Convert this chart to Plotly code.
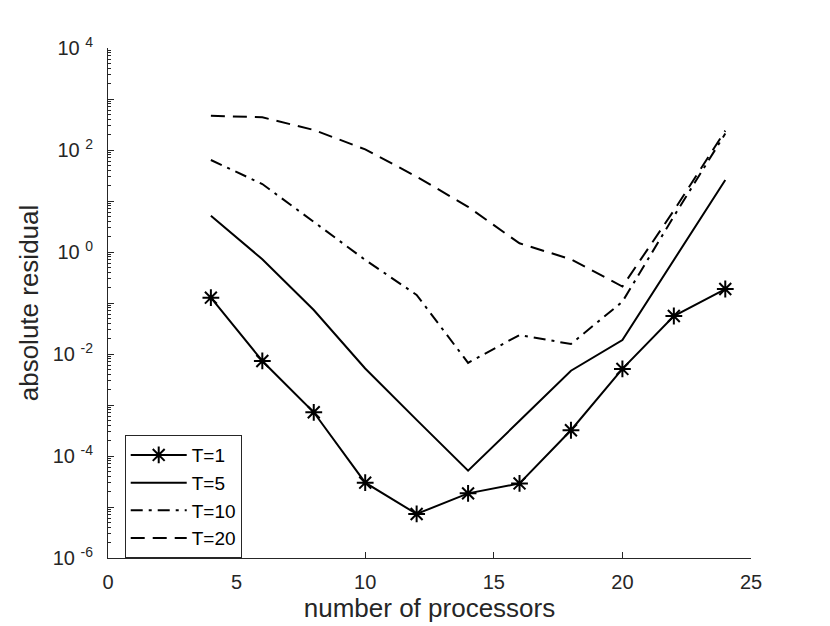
import plotly.graph_objects as go

# values
procs = [4, 6, 8, 10, 12, 14, 16, 18, 20, 22, 24]
res_t1 = [0.127, 0.0073, 7.2e-4, 3.0e-5, 7.3e-6, 1.85e-5, 2.9e-5, 3.2e-4, 0.0051, 0.0556, 0.188]
res_t5 = [5.15, 0.72, 0.073, 0.0052, 5.1e-4, 5.15e-5, 4.9e-4, 0.0047, 0.0188, 0.70, 25.8]
res_t10 = [63.7, 21.5, 3.9, 0.70, 0.144, 0.0067, 0.0236, 0.0157, 0.106, 5.0, 210]
res_t20 = [471, 437, 247, 103, 30, 7.7, 1.48, 0.72, 0.21, 6.5, 240]

decades = list(range(-6, 5))
tick_text = ["10 <sup>%d</sup>" % e if e % 2 == 0 else "" for e in decades]

AX = "#262626"
FONT = "Liberation Sans, Arial, sans-serif"

fig = go.Figure()
fig.add_trace(go.Scatter(x=procs, y=res_t1, name="T=1", mode="lines+markers",
                         line=dict(color="black", width=2),
                         marker=dict(symbol="asterisk-open", size=14, color="black",
                                     line=dict(color="black", width=2))))
fig.add_trace(go.Scatter(x=procs, y=res_t5, name="T=5", mode="lines",
                         line=dict(color="black", width=2)))
fig.add_trace(go.Scatter(x=procs, y=res_t10, name="T=10", mode="lines",
                         line=dict(color="black", width=2, dash="12px,6px,3px,6px")))
fig.add_trace(go.Scatter(x=procs, y=res_t20, name="T=20", mode="lines",
                         line=dict(color="black", width=2, dash="14px,8px")))

fig.update_xaxes(range=[0, 25], tickvals=[0, 5, 10, 15, 20, 25],
                 ticks="inside", ticklen=6, tickcolor=AX, showline=True,
                 linecolor=AX, linewidth=1, showgrid=False, zeroline=False,
                 tickfont=dict(size=20, color=AX), ticklabelstandoff=6, automargin=False,
                 title=dict(text="number of processors", font=dict(size=26, color=AX), standoff=4))
fig.update_yaxes(type="log", range=[-6, 4],
                 tickvals=[10.0 ** e for e in decades], ticktext=tick_text,
                 ticks="inside", ticklen=6, tickcolor=AX, showline=True,
                 linecolor=AX, linewidth=1, showgrid=False, zeroline=False,
                 tickfont=dict(size=20, color=AX), ticklabelstandoff=10, automargin=False,
                 minor=dict(ticks="inside", ticklen=3, tickcolor=AX, showgrid=False,
                            tickvals=[m * 10.0 ** e for e in range(-6, 4) for m in range(2, 10)]),
                 title=dict(text="absolute residual", font=dict(size=26, color=AX), standoff=6))

fig.update_layout(
    width=822, height=618,
    margin=dict(l=100, r=79, t=40, b=68),
    paper_bgcolor="white", plot_bgcolor="white",
    font=dict(family=FONT, color="black"),
    showlegend=True,
    legend=dict(x=0.026, y=0.241, xanchor="left", yanchor="top",
                bgcolor="white", bordercolor=AX, borderwidth=1,
                font=dict(size=19, color="black"), itemwidth=56,
                tracegroupgap=0),
)

fig.write_html("out.html")
